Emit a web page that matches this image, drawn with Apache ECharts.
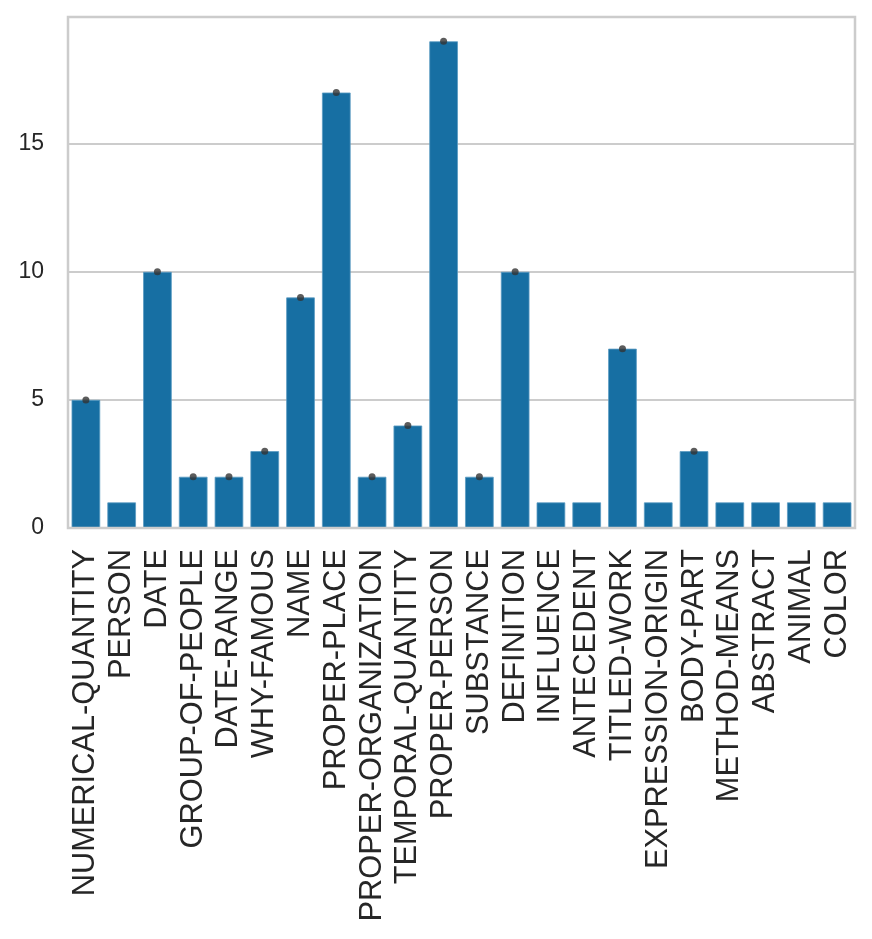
<!DOCTYPE html>
<html lang="en">
<head>
  <meta charset="UTF-8">
  <title>Answer types</title>
  <style type="text/css">
    html, body { margin: 0; padding: 0; background: #fff; }
    #main { width: 872px; height: 939px; }
  </style>
</head>
<body>
  <div id="main"></div>
  <script type="text/javascript" src="https://cdn.jsdelivr.net/npm/echarts@6/dist/echarts.min.js"></script>
  <script type="text/javascript">
    var categories = ['NUMERICAL-QUANTITY', 'PERSON', 'DATE', 'GROUP-OF-PEOPLE', 'DATE-RANGE',
      'WHY-FAMOUS', 'NAME', 'PROPER-PLACE', 'PROPER-ORGANIZATION', 'TEMPORAL-QUANTITY',
      'PROPER-PERSON', 'SUBSTANCE', 'DEFINITION', 'INFLUENCE', 'ANTECEDENT', 'TITLED-WORK',
      'EXPRESSION-ORIGIN', 'BODY-PART', 'METHOD-MEANS', 'ABSTRACT', 'ANIMAL', 'COLOR']
    var counts = [5, 1, 10, 2, 2, 3, 9, 17, 2, 4, 19, 2, 10, 1, 1, 7, 1, 3, 1, 1, 1, 1]
    // dots drawn on top of the bars (none on the single-count bars)
    var dots = [5, null, 10, 2, 2, 3, 9, 17, 2, 4, 19, 2, 10, null, null, 7, null, 3, null, null, null, null]
    var yTicks = [0, 5, 10, 15]

    var myChart = echarts.init(document.getElementById('main'))
    var option = {
      animation: false,
      textStyle: { fontFamily: 'Liberation Sans, Arial, sans-serif' },
      grid: { left: 68, right: 17, top: 17, bottom: 411, containLabel: false },
      xAxis: {
        type: 'category',
        data: categories,
        axisLine: { show: false },
        axisTick: { show: false },
        axisLabel: {
          rotate: 90,
          interval: 0,
          margin: 21,
          fontSize: 30.8,
          color: '#262626'
        },
        splitLine: { show: false }
      },
      yAxis: {
        type: 'value',
        min: 0,
        max: 19.95,
        interval: 5,
        axisLine: { show: false },
        axisTick: { show: false },
        axisLabel: {
          margin: 24,
          fontSize: 23,
          color: '#262626',
          formatter: function (v) { return yTicks.indexOf(v) >= 0 ? String(v) : '' }
        },
        splitLine: { lineStyle: { color: '#cccccc', width: 2 } }
      },
      graphic: [{
        type: 'rect',
        shape: { x: 68, y: 17, width: 787, height: 511 },
        style: { fill: 'none', stroke: '#cccccc', lineWidth: 2.5 },
        z: 100
      }],
      series: [{
        type: 'bar',
        data: counts,
        barCategoryGap: '20%',
        itemStyle: { color: '#176fa3', borderColor: '#5b9ac2', borderWidth: 0.8 }
      }, {
        type: 'scatter',
        data: dots,
        symbol: 'circle',
        symbolSize: 7,
        itemStyle: { color: '#333333' },
        z: 5
      }]
    }
    myChart.setOption(option)
  </script>
</body>
</html>
